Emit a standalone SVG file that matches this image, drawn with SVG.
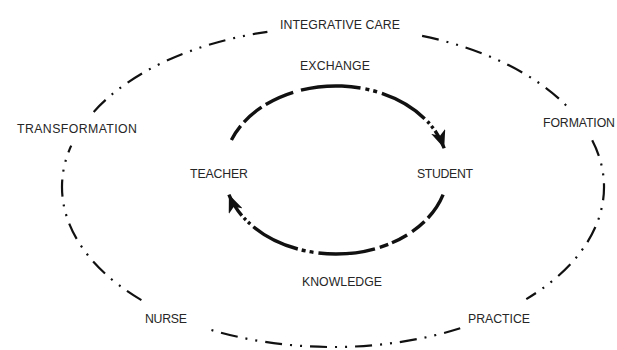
<svg xmlns="http://www.w3.org/2000/svg" width="617" height="350" viewBox="0 0 617 350">
<style>
text{font-family:"Liberation Sans",Arial,sans-serif;font-size:12.3px;fill:#262626;text-anchor:middle}
.outer{fill:none;stroke:#111;stroke-width:2.2;stroke-dasharray:17 8 2 8 2 8}
.inner{fill:none;stroke:#111;stroke-width:3.4}
</style>
<defs>
<marker id="arrow" markerUnits="userSpaceOnUse" viewBox="0 0 18 15" markerWidth="18" markerHeight="15" refX="18" refY="7.5" orient="auto">
<path d="M0,0 L18,7.5 L0,15 L5,7.5 Z" fill="#111"/>
</marker>
</defs>
<rect width="617" height="350" fill="#fff"/>
<g id="connectors">
<path class="outer" d="M422.1,35.9 A271,160 0 0 1 567.7,107"/>
<path class="outer" d="M592.2,140.2 A271,160 0 0 1 526.3,299.1"/>
<path class="outer" d="M460.2,328.3 A271,160 0 0 1 205.8,328.3"/>
<path class="outer" d="M141.4,300.1 A271,160 0 0 1 71.2,145.6"/>
<path class="outer" d="M93.7,111.9 A271,160 0 0 1 267.4,31.8"/>
<path class="inner" stroke-dasharray="17 5 23 5 30 8 60 5 4 4 4 5 50 4 3 3 3 3 60 10" marker-end="url(#arrow)" d="M231.4,139.9 A112,84 0 0 1 444.2,148.3"/>
<path class="inner" stroke-dasharray="28 5 16 6 17 4 9 5 57 5 4 4 4 4 50 4 3 3 3 3 60 10" marker-end="url(#arrow)" d="M443.1,194.6 A112,84 0 0 1 228.9,194.6"/>
</g>
<g id="integrative-care"><text x="340" y="28.5" textLength="120">INTEGRATIVE CARE</text></g>
<g id="exchange"><text x="335" y="70" textLength="70">EXCHANGE</text></g>
<g id="transformation"><text x="77" y="133" textLength="120">TRANSFORMATION</text></g>
<g id="formation"><text x="543" y="127" style="text-anchor:start" textLength="72">FORMATION</text></g>
<g id="teacher"><text x="219" y="178" textLength="58">TEACHER</text></g>
<g id="student"><text x="445" y="178" textLength="56">STUDENT</text></g>
<g id="knowledge"><text x="342" y="286" textLength="80">KNOWLEDGE</text></g>
<g id="nurse"><text x="166" y="323" textLength="42">NURSE</text></g>
<g id="practice"><text x="499" y="323" textLength="62">PRACTICE</text></g>
</svg>
